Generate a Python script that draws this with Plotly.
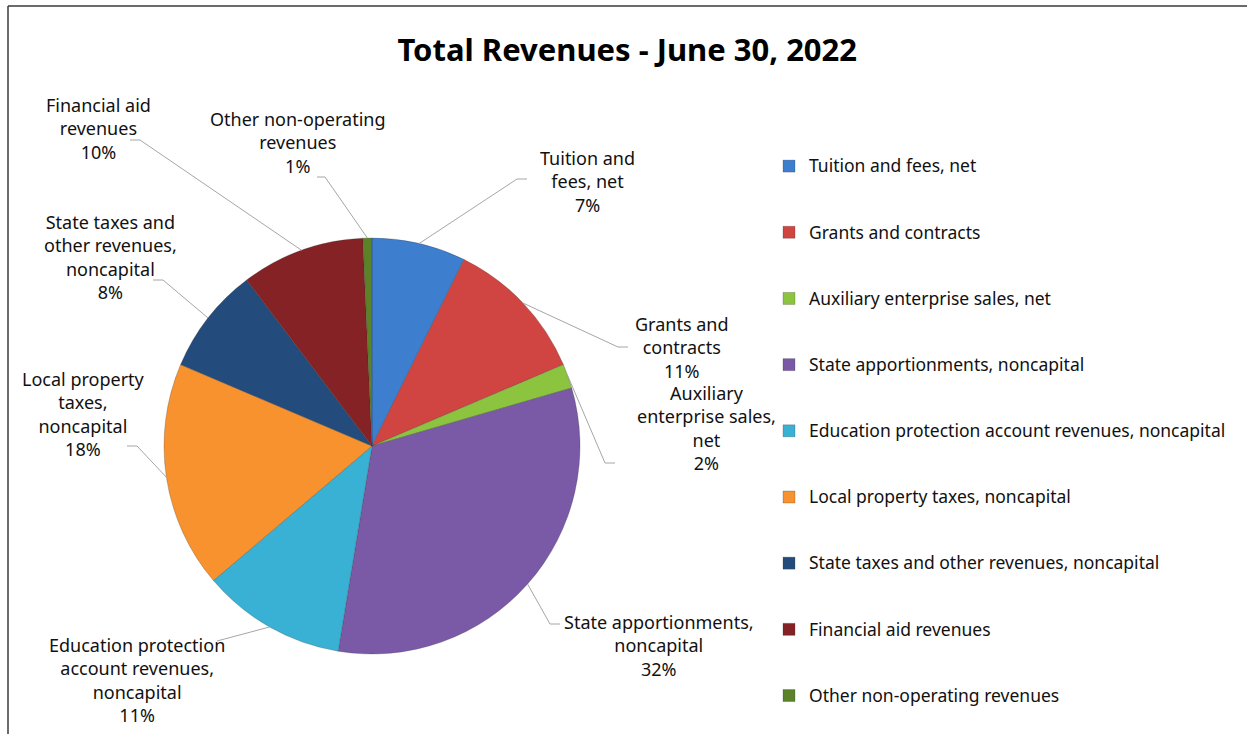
import math
import plotly.graph_objects as go

# ---------------- data ----------------
categories = [
    "Tuition and fees, net",
    "Grants and contracts",
    "Auxiliary enterprise sales, net",
    "State apportionments, noncapital",
    "Education protection account revenues, noncapital",
    "Local property taxes, noncapital",
    "State taxes and other revenues, noncapital",
    "Financial aid revenues",
    "Other non-operating revenues",
]
shares = [7.3, 11.3, 1.9, 32.1, 11.2, 17.6, 8.3, 9.6, 0.7]
label_wrapped = [
    "Tuition and<br>fees, net",
    "Grants and<br>contracts",
    "Auxiliary<br>enterprise sales,<br>net",
    "State apportionments,<br>noncapital",
    "Education protection<br>account revenues,<br>noncapital",
    "Local property<br>taxes,<br>noncapital",
    "State taxes and<br>other revenues,<br>noncapital",
    "Financial aid<br>revenues",
    "Other non-operating<br>revenues",
]
title_text = "Total Revenues - June 30, 2022"

# ---------------- style / layout ----------------
colors = ["#3D7ECE", "#D04541", "#8CC43F", "#7A5AA6", "#39B1D4",
          "#F7922F", "#234C7C", "#842225", "#5B8229"]
W, H = 1247, 734
CX, CY, R = 372, 446, 208          # pie centre / radius in pixels
FONT = "Noto Sans"
# label block centre (x, y), leader elbow, leader end (pixels)
label_pos = [(587, 181), (682, 347), (706, 428), (659, 645), (137, 680),
             (83, 414), (110, 257), (98, 128), (298, 143)]
leader_elbow = [(517, 179), (618, 347), (605, 463), (550, 624), (217, 641),
                (137, 446), (163, 280), (140, 140), (325, 177)]
leader_end = [(527, 179), (628, 347), (615, 463), (560, 624), (217, 641),
              (127, 446), (153, 280), (130, 140), (317, 177)]


def px(x):
    return x / W


def py(y):
    return 1 - y / H


total = sum(shares)
pct = [round(v / total * 100) for v in shares]

legend_names = [" <br><span style='font-size:17.5px'>" + c + "</span><br> "
                for c in categories]

fig = go.Figure()
fig.add_trace(go.Pie(
    labels=legend_names,
    values=shares,
    customdata=categories,
    sort=False,
    direction="clockwise",
    rotation=0,
    textinfo="none",
    hovertemplate="%{customdata}: %{percent}<extra></extra>",
    marker=dict(colors=colors, line=dict(color="rgba(40,40,40,0.3)", width=0.8)),
    domain=dict(x=[px(CX - R), px(CX + R)], y=[py(CY + R), py(CY - R)]),
    showlegend=True,
))

shapes = []
annotations = []
cum = 0.0
for i, v in enumerate(shares):
    mid = (cum + v / 2) / total * 2 * math.pi
    cum += v
    ex = CX + R * math.sin(mid)
    ey = CY - R * math.cos(mid)
    bx, by = leader_elbow[i]
    dx, dy = leader_end[i]
    shapes.append(dict(
        type="path", xref="paper", yref="paper",
        path=f"M {px(ex)},{py(ey)} L {px(bx)},{py(by)} L {px(dx)},{py(dy)}",
        line=dict(color="#A6A6A6", width=1),
    ))
    lx, ly = label_pos[i]
    annotations.append(dict(
        x=px(lx), y=py(ly), xref="paper", yref="paper",
        text=f"{label_wrapped[i]}<br>{pct[i]}%",
        showarrow=False, xanchor="center", yanchor="middle", align="center",
        font=dict(family=FONT, size=18, color="#111111"),
    ))

# frame
shapes.append(dict(type="line", xref="paper", yref="paper",
                   x0=px(8), x1=1, y0=py(6), y1=py(6),
                   line=dict(color="#3A3A3A", width=1.5)))
shapes.append(dict(type="line", xref="paper", yref="paper",
                   x0=px(8), x1=px(8), y0=py(6), y1=0,
                   line=dict(color="#3A3A3A", width=1.5)))

fig.update_layout(
    width=W, height=H,
    margin=dict(l=0, r=0, t=0, b=0),
    paper_bgcolor="white",
    plot_bgcolor="white",
    title=dict(text=f"<b>{title_text}</b>", x=0.503, xanchor="center",
               y=py(50), yanchor="middle",
               font=dict(family=FONT, size=31, color="#000000")),
    legend=dict(x=px(769), xanchor="left", y=py(128), yanchor="top",
                font=dict(family=FONT, size=16.2, color="#111111"),
                bgcolor="rgba(0,0,0,0)", traceorder="normal"),
    shapes=shapes,
    annotations=annotations,
)

fig.write_html("out.html",
               config={"displayModeBar": False},
               post_script="document.body.style.margin='0';document.body.style.overflow='hidden';")
